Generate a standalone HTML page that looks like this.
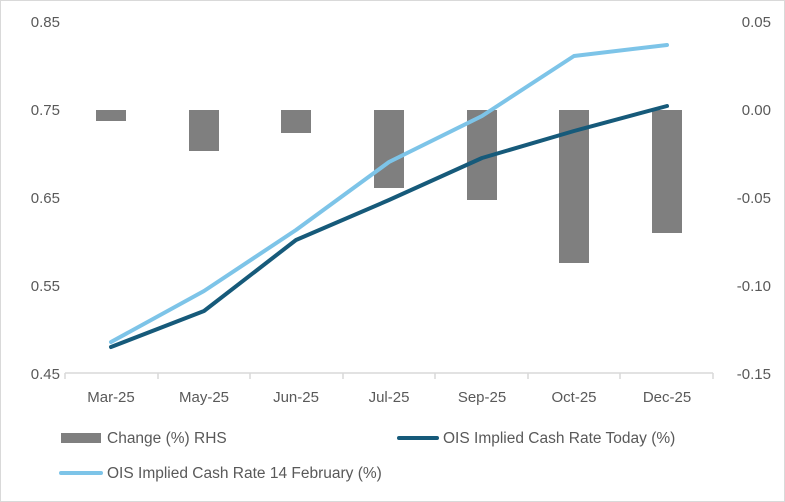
<!DOCTYPE html>
<html><head><style>
html,body{margin:0;padding:0;background:#fff}
</style></head><body>
<svg width="785" height="502" xmlns="http://www.w3.org/2000/svg" style="display:block;font-family:'Liberation Sans',sans-serif">
<rect x="0.5" y="0.5" width="784" height="501" fill="#fff" stroke="#d9d9d9"/>
<g font-size="15" fill="#595959">
<text x="60" y="27" text-anchor="end">0.85</text>
<text x="60" y="115" text-anchor="end">0.75</text>
<text x="60" y="203" text-anchor="end">0.65</text>
<text x="60" y="291" text-anchor="end">0.55</text>
<text x="60" y="379" text-anchor="end">0.45</text>
<text x="771" y="27" text-anchor="end">0.05</text>
<text x="771" y="115" text-anchor="end">0.00</text>
<text x="771" y="203" text-anchor="end">-0.05</text>
<text x="771" y="291" text-anchor="end">-0.10</text>
<text x="771" y="379" text-anchor="end">-0.15</text>
<g text-anchor="middle">
<text x="111" y="402">Mar-25</text><text x="204" y="402">May-25</text><text x="296" y="402">Jun-25</text><text x="389" y="402">Jul-25</text><text x="482" y="402">Sep-25</text><text x="574" y="402">Oct-25</text><text x="667" y="402">Dec-25</text>
</g>
<g font-size="15.5">
<text x="107" y="443">Change (%) RHS</text>
<text x="443" y="443">OIS Implied Cash Rate Today (%)</text>
<text x="107" y="478">OIS Implied Cash Rate 14 February (%)</text>
</g>
</g>
<g fill="#7f7f7f">
<rect x="96" y="110" width="30" height="11"/>
<rect x="189" y="110" width="30" height="41"/>
<rect x="281" y="110" width="30" height="23"/>
<rect x="374" y="110" width="30" height="78"/>
<rect x="467" y="110" width="30" height="90"/>
<rect x="559" y="110" width="30" height="153"/>
<rect x="652" y="110" width="30" height="123"/>
</g>
<g stroke="#d9d9d9" stroke-width="1.5">
<line x1="65" y1="373" x2="713" y2="373"/>
<line x1="65" y1="373" x2="65" y2="379"/><line x1="158" y1="373" x2="158" y2="379"/><line x1="250" y1="373" x2="250" y2="379"/><line x1="343" y1="373" x2="343" y2="379"/><line x1="435" y1="373" x2="435" y2="379"/><line x1="528" y1="373" x2="528" y2="379"/><line x1="620" y1="373" x2="620" y2="379"/><line x1="713" y1="373" x2="713" y2="379"/>
</g>
<polyline fill="none" stroke="#7dc4e8" stroke-width="4" stroke-linecap="round" stroke-linejoin="round" points="111,342 204,291 296,230 389,162 482,116 574,56 667,45"/>
<polyline fill="none" stroke="#165a7a" stroke-width="4" stroke-linecap="round" stroke-linejoin="round" points="111,347 204,311 296,240 389,200 482,158 574,131 667,106"/>
<rect x="61" y="433" width="40" height="10" fill="#7f7f7f"/>
<line x1="399" y1="438" x2="437" y2="438" stroke="#165a7a" stroke-width="4" stroke-linecap="round"/>
<line x1="61" y1="473" x2="101" y2="473" stroke="#7dc4e8" stroke-width="4" stroke-linecap="round"/>
</svg>
</body></html>
